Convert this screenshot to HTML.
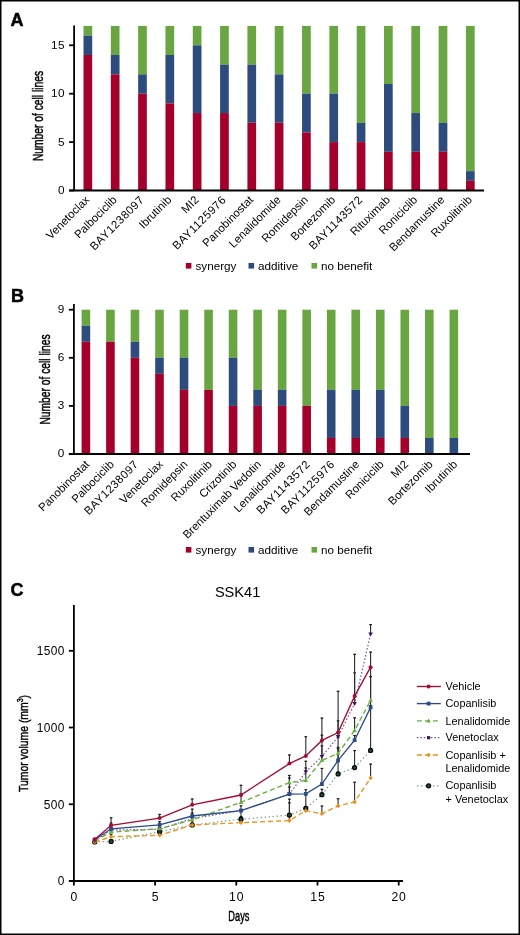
<!DOCTYPE html>
<html><head><meta charset="utf-8"><title>Figure</title>
<style>html,body{margin:0;padding:0;background:#fff;width:520px;height:935px;overflow:hidden}
body{position:relative;font-family:"Liberation Sans",sans-serif}</style></head>
<body>
<svg width="520" height="935" viewBox="0 0 520 935" style="position:absolute;left:0;top:0;will-change:transform" font-family="Liberation Sans, sans-serif">
<rect x="0" y="0" width="520" height="935" fill="#fff"/>
<text x="10.6" y="25.8" font-size="18" font-weight="bold" fill="#000" stroke="#000" stroke-width="0.5">A</text>
<rect x="83.50" y="25.94" width="8.7" height="9.68" fill="#69A541"/>
<rect x="83.50" y="35.62" width="8.7" height="19.36" fill="#2E4B7D"/>
<rect x="83.50" y="54.98" width="8.7" height="135.52" fill="#A3002C"/>
<text x="0" y="0" font-size="11.4" text-anchor="end" transform="translate(90.15,200.50) rotate(-45)">Venetoclax</text>
<rect x="110.82" y="25.94" width="8.7" height="29.04" fill="#69A541"/>
<rect x="110.82" y="54.98" width="8.7" height="19.36" fill="#2E4B7D"/>
<rect x="110.82" y="74.34" width="8.7" height="116.16" fill="#A3002C"/>
<text x="0" y="0" font-size="11.4" text-anchor="end" transform="translate(117.47,200.50) rotate(-45)">Palbociclib</text>
<rect x="138.14" y="25.94" width="8.7" height="48.40" fill="#69A541"/>
<rect x="138.14" y="74.34" width="8.7" height="19.36" fill="#2E4B7D"/>
<rect x="138.14" y="93.70" width="8.7" height="96.80" fill="#A3002C"/>
<text x="0" y="0" font-size="11.4" text-anchor="end" letter-spacing="0.5" transform="translate(144.79,200.50) rotate(-45)">BAY1238097</text>
<rect x="165.46" y="25.94" width="8.7" height="29.04" fill="#69A541"/>
<rect x="165.46" y="54.98" width="8.7" height="48.40" fill="#2E4B7D"/>
<rect x="165.46" y="103.38" width="8.7" height="87.12" fill="#A3002C"/>
<text x="0" y="0" font-size="11.4" text-anchor="end" transform="translate(172.11,200.50) rotate(-45)">Ibrutinib</text>
<rect x="192.78" y="25.94" width="8.7" height="19.36" fill="#69A541"/>
<rect x="192.78" y="45.30" width="8.7" height="67.76" fill="#2E4B7D"/>
<rect x="192.78" y="113.06" width="8.7" height="77.44" fill="#A3002C"/>
<text x="0" y="0" font-size="11.4" text-anchor="end" transform="translate(199.43,200.50) rotate(-45)">MI2</text>
<rect x="220.10" y="25.94" width="8.7" height="38.72" fill="#69A541"/>
<rect x="220.10" y="64.66" width="8.7" height="48.40" fill="#2E4B7D"/>
<rect x="220.10" y="113.06" width="8.7" height="77.44" fill="#A3002C"/>
<text x="0" y="0" font-size="11.4" text-anchor="end" letter-spacing="0.5" transform="translate(226.75,200.50) rotate(-45)">BAY1125976</text>
<rect x="247.42" y="25.94" width="8.7" height="38.72" fill="#69A541"/>
<rect x="247.42" y="64.66" width="8.7" height="58.08" fill="#2E4B7D"/>
<rect x="247.42" y="122.74" width="8.7" height="67.76" fill="#A3002C"/>
<text x="0" y="0" font-size="11.4" text-anchor="end" transform="translate(254.07,200.50) rotate(-45)">Panobinostat</text>
<rect x="274.74" y="25.94" width="8.7" height="48.40" fill="#69A541"/>
<rect x="274.74" y="74.34" width="8.7" height="48.40" fill="#2E4B7D"/>
<rect x="274.74" y="122.74" width="8.7" height="67.76" fill="#A3002C"/>
<text x="0" y="0" font-size="11.4" text-anchor="end" transform="translate(281.39,200.50) rotate(-45)">Lenalidomide</text>
<rect x="302.06" y="25.94" width="8.7" height="67.76" fill="#69A541"/>
<rect x="302.06" y="93.70" width="8.7" height="38.72" fill="#2E4B7D"/>
<rect x="302.06" y="132.42" width="8.7" height="58.08" fill="#A3002C"/>
<text x="0" y="0" font-size="11.4" text-anchor="end" transform="translate(308.71,200.50) rotate(-45)">Romidepsin</text>
<rect x="329.38" y="25.94" width="8.7" height="67.76" fill="#69A541"/>
<rect x="329.38" y="93.70" width="8.7" height="48.40" fill="#2E4B7D"/>
<rect x="329.38" y="142.10" width="8.7" height="48.40" fill="#A3002C"/>
<text x="0" y="0" font-size="11.4" text-anchor="end" transform="translate(336.03,200.50) rotate(-45)">Bortezomib</text>
<rect x="356.70" y="25.94" width="8.7" height="96.80" fill="#69A541"/>
<rect x="356.70" y="122.74" width="8.7" height="19.36" fill="#2E4B7D"/>
<rect x="356.70" y="142.10" width="8.7" height="48.40" fill="#A3002C"/>
<text x="0" y="0" font-size="11.4" text-anchor="end" letter-spacing="0.5" transform="translate(363.35,200.50) rotate(-45)">BAY1143572</text>
<rect x="384.02" y="25.94" width="8.7" height="58.08" fill="#69A541"/>
<rect x="384.02" y="84.02" width="8.7" height="67.76" fill="#2E4B7D"/>
<rect x="384.02" y="151.78" width="8.7" height="38.72" fill="#A3002C"/>
<text x="0" y="0" font-size="11.4" text-anchor="end" transform="translate(390.67,200.50) rotate(-45)">Rituximab</text>
<rect x="411.34" y="25.94" width="8.7" height="87.12" fill="#69A541"/>
<rect x="411.34" y="113.06" width="8.7" height="38.72" fill="#2E4B7D"/>
<rect x="411.34" y="151.78" width="8.7" height="38.72" fill="#A3002C"/>
<text x="0" y="0" font-size="11.4" text-anchor="end" transform="translate(417.99,200.50) rotate(-45)">Roniciclib</text>
<rect x="438.66" y="25.94" width="8.7" height="96.80" fill="#69A541"/>
<rect x="438.66" y="122.74" width="8.7" height="29.04" fill="#2E4B7D"/>
<rect x="438.66" y="151.78" width="8.7" height="38.72" fill="#A3002C"/>
<text x="0" y="0" font-size="11.4" text-anchor="end" transform="translate(445.31,200.50) rotate(-45)">Bendamustine</text>
<rect x="465.98" y="25.94" width="8.7" height="145.20" fill="#69A541"/>
<rect x="465.98" y="171.14" width="8.7" height="9.68" fill="#2E4B7D"/>
<rect x="465.98" y="180.82" width="8.7" height="9.68" fill="#A3002C"/>
<text x="0" y="0" font-size="11.4" text-anchor="end" transform="translate(472.63,200.50) rotate(-45)">Ruxolitinib</text>
<line x1="74.1" y1="25.5" x2="74.1" y2="190.5" stroke="#000" stroke-width="1.8"/>
<line x1="69.1" y1="190.5" x2="484" y2="190.5" stroke="#000" stroke-width="1.8"/>
<line x1="69.1" y1="190.50" x2="74.1" y2="190.50" stroke="#000" stroke-width="1.8"/>
<text x="65.1" y="193.90" font-size="11.8" text-anchor="end" letter-spacing="0.5">0</text>
<line x1="69.1" y1="142.10" x2="74.1" y2="142.10" stroke="#000" stroke-width="1.8"/>
<text x="65.1" y="145.50" font-size="11.8" text-anchor="end" letter-spacing="0.5">5</text>
<line x1="69.1" y1="93.70" x2="74.1" y2="93.70" stroke="#000" stroke-width="1.8"/>
<text x="65.1" y="97.10" font-size="11.8" text-anchor="end" letter-spacing="0.5">10</text>
<line x1="69.1" y1="45.30" x2="74.1" y2="45.30" stroke="#000" stroke-width="1.8"/>
<text x="65.1" y="48.70" font-size="11.8" text-anchor="end" letter-spacing="0.5">15</text>
<text x="0" y="0" font-size="14" text-anchor="middle" transform="translate(43,116) rotate(-90) scale(0.735,1)" stroke="#000" stroke-width="0.45">Number of cell lines</text>
<rect x="185.8" y="263" width="5.6" height="5.6" fill="#A3002C"/>
<text x="195.5" y="269.70" font-size="11.7">synergy</text>
<rect x="248.5" y="263" width="5.6" height="5.6" fill="#2E4B7D"/>
<text x="258" y="269.70" font-size="11.7">additive</text>
<rect x="311.5" y="263" width="5.6" height="5.6" fill="#69A541"/>
<text x="321" y="269.70" font-size="11.7">no benefit</text>
<text x="11.1" y="301.8" font-size="18" font-weight="bold" fill="#000" stroke="#000" stroke-width="0.5">B</text>
<rect x="81.60" y="309.73" width="8.6" height="16.03" fill="#69A541"/>
<rect x="81.60" y="325.76" width="8.6" height="16.03" fill="#2E4B7D"/>
<rect x="81.60" y="341.79" width="8.6" height="112.21" fill="#A3002C"/>
<text x="0" y="0" font-size="11.4" text-anchor="end" transform="translate(90.10,465.00) rotate(-45)">Panobinostat</text>
<rect x="106.13" y="309.73" width="8.6" height="32.06" fill="#69A541"/>
<rect x="106.13" y="341.79" width="8.6" height="112.21" fill="#A3002C"/>
<text x="0" y="0" font-size="11.4" text-anchor="end" transform="translate(114.63,465.00) rotate(-45)">Palbociclib</text>
<rect x="130.66" y="309.73" width="8.6" height="32.06" fill="#69A541"/>
<rect x="130.66" y="341.79" width="8.6" height="16.03" fill="#2E4B7D"/>
<rect x="130.66" y="357.82" width="8.6" height="96.18" fill="#A3002C"/>
<text x="0" y="0" font-size="11.4" text-anchor="end" letter-spacing="0.5" transform="translate(139.16,465.00) rotate(-45)">BAY1238097</text>
<rect x="155.19" y="309.73" width="8.6" height="48.09" fill="#69A541"/>
<rect x="155.19" y="357.82" width="8.6" height="16.03" fill="#2E4B7D"/>
<rect x="155.19" y="373.85" width="8.6" height="80.15" fill="#A3002C"/>
<text x="0" y="0" font-size="11.4" text-anchor="end" transform="translate(163.69,465.00) rotate(-45)">Venetoclax</text>
<rect x="179.72" y="309.73" width="8.6" height="48.09" fill="#69A541"/>
<rect x="179.72" y="357.82" width="8.6" height="32.06" fill="#2E4B7D"/>
<rect x="179.72" y="389.88" width="8.6" height="64.12" fill="#A3002C"/>
<text x="0" y="0" font-size="11.4" text-anchor="end" transform="translate(188.22,465.00) rotate(-45)">Romidepsin</text>
<rect x="204.25" y="309.73" width="8.6" height="80.15" fill="#69A541"/>
<rect x="204.25" y="389.88" width="8.6" height="64.12" fill="#A3002C"/>
<text x="0" y="0" font-size="11.4" text-anchor="end" transform="translate(212.75,465.00) rotate(-45)">Ruxolitinib</text>
<rect x="228.78" y="309.73" width="8.6" height="48.09" fill="#69A541"/>
<rect x="228.78" y="357.82" width="8.6" height="48.09" fill="#2E4B7D"/>
<rect x="228.78" y="405.91" width="8.6" height="48.09" fill="#A3002C"/>
<text x="0" y="0" font-size="11.4" text-anchor="end" transform="translate(237.28,465.00) rotate(-45)">Crizotinib</text>
<rect x="253.31" y="309.73" width="8.6" height="80.15" fill="#69A541"/>
<rect x="253.31" y="389.88" width="8.6" height="16.03" fill="#2E4B7D"/>
<rect x="253.31" y="405.91" width="8.6" height="48.09" fill="#A3002C"/>
<text x="0" y="0" font-size="11.4" text-anchor="end" transform="translate(261.81,465.00) rotate(-45)">Brentuximab Vedotin</text>
<rect x="277.84" y="309.73" width="8.6" height="80.15" fill="#69A541"/>
<rect x="277.84" y="389.88" width="8.6" height="16.03" fill="#2E4B7D"/>
<rect x="277.84" y="405.91" width="8.6" height="48.09" fill="#A3002C"/>
<text x="0" y="0" font-size="11.4" text-anchor="end" transform="translate(286.34,465.00) rotate(-45)">Lenalidomide</text>
<rect x="302.37" y="309.73" width="8.6" height="96.18" fill="#69A541"/>
<rect x="302.37" y="405.91" width="8.6" height="48.09" fill="#A3002C"/>
<text x="0" y="0" font-size="11.4" text-anchor="end" letter-spacing="0.5" transform="translate(310.87,465.00) rotate(-45)">BAY1143572</text>
<rect x="326.90" y="309.73" width="8.6" height="80.15" fill="#69A541"/>
<rect x="326.90" y="389.88" width="8.6" height="48.09" fill="#2E4B7D"/>
<rect x="326.90" y="437.97" width="8.6" height="16.03" fill="#A3002C"/>
<text x="0" y="0" font-size="11.4" text-anchor="end" letter-spacing="0.5" transform="translate(335.40,465.00) rotate(-45)">BAY1125976</text>
<rect x="351.43" y="309.73" width="8.6" height="80.15" fill="#69A541"/>
<rect x="351.43" y="389.88" width="8.6" height="48.09" fill="#2E4B7D"/>
<rect x="351.43" y="437.97" width="8.6" height="16.03" fill="#A3002C"/>
<text x="0" y="0" font-size="11.4" text-anchor="end" transform="translate(359.93,465.00) rotate(-45)">Bendamustine</text>
<rect x="375.96" y="309.73" width="8.6" height="80.15" fill="#69A541"/>
<rect x="375.96" y="389.88" width="8.6" height="48.09" fill="#2E4B7D"/>
<rect x="375.96" y="437.97" width="8.6" height="16.03" fill="#A3002C"/>
<text x="0" y="0" font-size="11.4" text-anchor="end" transform="translate(384.46,465.00) rotate(-45)">Roniciclib</text>
<rect x="400.49" y="309.73" width="8.6" height="96.18" fill="#69A541"/>
<rect x="400.49" y="405.91" width="8.6" height="32.06" fill="#2E4B7D"/>
<rect x="400.49" y="437.97" width="8.6" height="16.03" fill="#A3002C"/>
<text x="0" y="0" font-size="11.4" text-anchor="end" transform="translate(408.99,465.00) rotate(-45)">MI2</text>
<rect x="425.02" y="309.73" width="8.6" height="128.24" fill="#69A541"/>
<rect x="425.02" y="437.97" width="8.6" height="16.03" fill="#2E4B7D"/>
<text x="0" y="0" font-size="11.4" text-anchor="end" transform="translate(433.52,465.00) rotate(-45)">Bortezomib</text>
<rect x="449.55" y="309.73" width="8.6" height="128.24" fill="#69A541"/>
<rect x="449.55" y="437.97" width="8.6" height="16.03" fill="#2E4B7D"/>
<text x="0" y="0" font-size="11.4" text-anchor="end" transform="translate(458.05,465.00) rotate(-45)">Ibrutinib</text>
<line x1="73.9" y1="304" x2="73.9" y2="454" stroke="#000" stroke-width="1.8"/>
<line x1="68.9" y1="454" x2="470" y2="454" stroke="#000" stroke-width="1.8"/>
<line x1="68.9" y1="454.00" x2="73.9" y2="454.00" stroke="#000" stroke-width="1.8"/>
<text x="64.9" y="457.40" font-size="11.8" text-anchor="end" letter-spacing="0.5">0</text>
<line x1="68.9" y1="405.91" x2="73.9" y2="405.91" stroke="#000" stroke-width="1.8"/>
<text x="64.9" y="409.31" font-size="11.8" text-anchor="end" letter-spacing="0.5">3</text>
<line x1="68.9" y1="357.82" x2="73.9" y2="357.82" stroke="#000" stroke-width="1.8"/>
<text x="64.9" y="361.22" font-size="11.8" text-anchor="end" letter-spacing="0.5">6</text>
<line x1="68.9" y1="309.73" x2="73.9" y2="309.73" stroke="#000" stroke-width="1.8"/>
<text x="64.9" y="313.13" font-size="11.8" text-anchor="end" letter-spacing="0.5">9</text>
<text x="0" y="0" font-size="14" text-anchor="middle" transform="translate(49.7,379.5) rotate(-90) scale(0.735,1)" stroke="#000" stroke-width="0.45">Number of cell lines</text>
<rect x="185.8" y="547" width="5.6" height="5.6" fill="#A3002C"/>
<text x="195.5" y="553.70" font-size="11.7">synergy</text>
<rect x="248.5" y="547" width="5.6" height="5.6" fill="#2E4B7D"/>
<text x="258" y="553.70" font-size="11.7">additive</text>
<rect x="311.5" y="547" width="5.6" height="5.6" fill="#69A541"/>
<text x="321" y="553.70" font-size="11.7">no benefit</text>
<text x="10.4" y="595.8" font-size="18" font-weight="bold" stroke="#000" stroke-width="0.5">C</text>
<text x="237.6" y="597" font-size="14.6" text-anchor="middle">SSK41</text>
<line x1="73.9" y1="605" x2="73.9" y2="881" stroke="#000" stroke-width="1.8"/>
<line x1="68.9" y1="881" x2="403" y2="881" stroke="#000" stroke-width="1.8"/>
<line x1="68.9" y1="881.00" x2="73.9" y2="881.00" stroke="#000" stroke-width="1.8"/>
<text x="64.9" y="885.30" font-size="11.9" letter-spacing="0.45" text-anchor="end">0</text>
<line x1="68.9" y1="804.26" x2="73.9" y2="804.26" stroke="#000" stroke-width="1.8"/>
<text x="64.9" y="808.56" font-size="11.9" letter-spacing="0.45" text-anchor="end">500</text>
<line x1="68.9" y1="727.53" x2="73.9" y2="727.53" stroke="#000" stroke-width="1.8"/>
<text x="64.9" y="731.83" font-size="11.9" letter-spacing="0.45" text-anchor="end">1000</text>
<line x1="68.9" y1="650.80" x2="73.9" y2="650.80" stroke="#000" stroke-width="1.8"/>
<text x="64.9" y="655.10" font-size="11.9" letter-spacing="0.45" text-anchor="end">1500</text>
<line x1="73.90" y1="881" x2="73.90" y2="885.5" stroke="#000" stroke-width="1.8"/>
<text x="74.30" y="900.8" font-size="12.2" letter-spacing="0.8" text-anchor="middle">0</text>
<line x1="155.10" y1="881" x2="155.10" y2="885.5" stroke="#000" stroke-width="1.8"/>
<text x="155.50" y="900.8" font-size="12.2" letter-spacing="0.8" text-anchor="middle">5</text>
<line x1="236.30" y1="881" x2="236.30" y2="885.5" stroke="#000" stroke-width="1.8"/>
<text x="236.70" y="900.8" font-size="12.2" letter-spacing="0.8" text-anchor="middle">10</text>
<line x1="317.50" y1="881" x2="317.50" y2="885.5" stroke="#000" stroke-width="1.8"/>
<text x="317.90" y="900.8" font-size="12.2" letter-spacing="0.8" text-anchor="middle">15</text>
<line x1="398.70" y1="881" x2="398.70" y2="885.5" stroke="#000" stroke-width="1.8"/>
<text x="399.10" y="900.8" font-size="12.2" letter-spacing="0.8" text-anchor="middle">20</text>
<text x="0" y="0" font-size="14.5" text-anchor="middle" stroke="#000" stroke-width="0.45" transform="translate(238.9,920.8) scale(0.64,1)">Days</text>
<text x="0" y="0" font-size="13.5" text-anchor="middle" stroke="#000" stroke-width="0.45" transform="translate(27.8,743.5) rotate(-90) scale(0.77,1)">Tumor volume (mm<tspan font-size="9" dy="-5">3</tspan><tspan dy="5">)</tspan></text>
<line x1="94.7" y1="837.7" x2="94.7" y2="839.5" stroke="#2a2a2a" stroke-width="1.1"/>
<line x1="93.35000000000001" y1="838.25" x2="96.05" y2="838.25" stroke="#1a1a1a" stroke-width="1.2"/>
<line x1="111.1" y1="817.3" x2="111.1" y2="825.3" stroke="#2a2a2a" stroke-width="1.1"/>
<line x1="109.75" y1="817.8499999999999" x2="112.44999999999999" y2="817.8499999999999" stroke="#1a1a1a" stroke-width="1.2"/>
<line x1="159.6" y1="813.9" x2="159.6" y2="818.1" stroke="#2a2a2a" stroke-width="1.1"/>
<line x1="158.25" y1="814.4499999999999" x2="160.95" y2="814.4499999999999" stroke="#1a1a1a" stroke-width="1.2"/>
<line x1="192.2" y1="798.5" x2="192.2" y2="804.8" stroke="#2a2a2a" stroke-width="1.1"/>
<line x1="190.85" y1="799.05" x2="193.54999999999998" y2="799.05" stroke="#1a1a1a" stroke-width="1.2"/>
<line x1="241" y1="784.8" x2="241" y2="795" stroke="#2a2a2a" stroke-width="1.1"/>
<line x1="239.65" y1="785.3499999999999" x2="242.35" y2="785.3499999999999" stroke="#1a1a1a" stroke-width="1.2"/>
<line x1="289.4" y1="754.4" x2="289.4" y2="763.6" stroke="#2a2a2a" stroke-width="1.1"/>
<line x1="288.04999999999995" y1="754.9499999999999" x2="290.75" y2="754.9499999999999" stroke="#1a1a1a" stroke-width="1.2"/>
<line x1="305.8" y1="736.2" x2="305.8" y2="755.9" stroke="#2a2a2a" stroke-width="1.1"/>
<line x1="304.45" y1="736.75" x2="307.15000000000003" y2="736.75" stroke="#1a1a1a" stroke-width="1.2"/>
<line x1="321.9" y1="717.6" x2="321.9" y2="740.4" stroke="#2a2a2a" stroke-width="1.1"/>
<line x1="320.54999999999995" y1="718.15" x2="323.25" y2="718.15" stroke="#1a1a1a" stroke-width="1.2"/>
<line x1="338.1" y1="720.3" x2="338.1" y2="732.6" stroke="#2a2a2a" stroke-width="1.1"/>
<line x1="336.75" y1="720.8499999999999" x2="339.45000000000005" y2="720.8499999999999" stroke="#1a1a1a" stroke-width="1.2"/>
<line x1="354.6" y1="672.3" x2="354.6" y2="696.1" stroke="#2a2a2a" stroke-width="1.1"/>
<line x1="353.25" y1="672.8499999999999" x2="355.95000000000005" y2="672.8499999999999" stroke="#1a1a1a" stroke-width="1.2"/>
<line x1="370.6" y1="651.6" x2="370.6" y2="667.2" stroke="#2a2a2a" stroke-width="1.1"/>
<line x1="369.25" y1="652.15" x2="371.95000000000005" y2="652.15" stroke="#1a1a1a" stroke-width="1.2"/>
<line x1="111.1" y1="822.6" x2="111.1" y2="828.8" stroke="#2a2a2a" stroke-width="1.1"/>
<line x1="109.75" y1="823.15" x2="112.44999999999999" y2="823.15" stroke="#1a1a1a" stroke-width="1.2"/>
<line x1="159.6" y1="821.1" x2="159.6" y2="824.9" stroke="#2a2a2a" stroke-width="1.1"/>
<line x1="158.25" y1="821.65" x2="160.95" y2="821.65" stroke="#1a1a1a" stroke-width="1.2"/>
<line x1="192.2" y1="808.6" x2="192.2" y2="816" stroke="#2a2a2a" stroke-width="1.1"/>
<line x1="190.85" y1="809.15" x2="193.54999999999998" y2="809.15" stroke="#1a1a1a" stroke-width="1.2"/>
<line x1="241" y1="805.3" x2="241" y2="810.6" stroke="#2a2a2a" stroke-width="1.1"/>
<line x1="239.65" y1="805.8499999999999" x2="242.35" y2="805.8499999999999" stroke="#1a1a1a" stroke-width="1.2"/>
<line x1="289.4" y1="786.5" x2="289.4" y2="794.2" stroke="#2a2a2a" stroke-width="1.1"/>
<line x1="288.04999999999995" y1="787.05" x2="290.75" y2="787.05" stroke="#1a1a1a" stroke-width="1.2"/>
<line x1="305.8" y1="789.1" x2="305.8" y2="793.9" stroke="#2a2a2a" stroke-width="1.1"/>
<line x1="304.45" y1="789.65" x2="307.15000000000003" y2="789.65" stroke="#1a1a1a" stroke-width="1.2"/>
<line x1="321.9" y1="767.9" x2="321.9" y2="784.1" stroke="#2a2a2a" stroke-width="1.1"/>
<line x1="320.54999999999995" y1="768.4499999999999" x2="323.25" y2="768.4499999999999" stroke="#1a1a1a" stroke-width="1.2"/>
<line x1="338.1" y1="748" x2="338.1" y2="760.4" stroke="#2a2a2a" stroke-width="1.1"/>
<line x1="336.75" y1="748.55" x2="339.45000000000005" y2="748.55" stroke="#1a1a1a" stroke-width="1.2"/>
<line x1="354.6" y1="735" x2="354.6" y2="740.2" stroke="#2a2a2a" stroke-width="1.1"/>
<line x1="353.25" y1="735.55" x2="355.95000000000005" y2="735.55" stroke="#1a1a1a" stroke-width="1.2"/>
<line x1="370.6" y1="667" x2="370.6" y2="707.4" stroke="#2a2a2a" stroke-width="1.1"/>
<line x1="369.25" y1="667.55" x2="371.95000000000005" y2="667.55" stroke="#1a1a1a" stroke-width="1.2"/>
<line x1="111.1" y1="827" x2="111.1" y2="832.2" stroke="#2a2a2a" stroke-width="1.1"/>
<line x1="109.75" y1="827.55" x2="112.44999999999999" y2="827.55" stroke="#1a1a1a" stroke-width="1.2"/>
<line x1="159.6" y1="823" x2="159.6" y2="828.7" stroke="#2a2a2a" stroke-width="1.1"/>
<line x1="158.25" y1="823.55" x2="160.95" y2="823.55" stroke="#1a1a1a" stroke-width="1.2"/>
<line x1="192.2" y1="812.5" x2="192.2" y2="819.9" stroke="#2a2a2a" stroke-width="1.1"/>
<line x1="190.85" y1="813.05" x2="193.54999999999998" y2="813.05" stroke="#1a1a1a" stroke-width="1.2"/>
<line x1="241" y1="793" x2="241" y2="802.3" stroke="#2a2a2a" stroke-width="1.1"/>
<line x1="239.65" y1="793.55" x2="242.35" y2="793.55" stroke="#1a1a1a" stroke-width="1.2"/>
<line x1="289.4" y1="774.9" x2="289.4" y2="782.6" stroke="#2a2a2a" stroke-width="1.1"/>
<line x1="288.04999999999995" y1="775.4499999999999" x2="290.75" y2="775.4499999999999" stroke="#1a1a1a" stroke-width="1.2"/>
<line x1="305.8" y1="767.4" x2="305.8" y2="780.4" stroke="#2a2a2a" stroke-width="1.1"/>
<line x1="304.45" y1="767.9499999999999" x2="307.15000000000003" y2="767.9499999999999" stroke="#1a1a1a" stroke-width="1.2"/>
<line x1="321.9" y1="745.3" x2="321.9" y2="760.4" stroke="#2a2a2a" stroke-width="1.1"/>
<line x1="320.54999999999995" y1="745.8499999999999" x2="323.25" y2="745.8499999999999" stroke="#1a1a1a" stroke-width="1.2"/>
<line x1="338.1" y1="746.8" x2="338.1" y2="753.4" stroke="#2a2a2a" stroke-width="1.1"/>
<line x1="336.75" y1="747.3499999999999" x2="339.45000000000005" y2="747.3499999999999" stroke="#1a1a1a" stroke-width="1.2"/>
<line x1="354.6" y1="717.3" x2="354.6" y2="730.5" stroke="#2a2a2a" stroke-width="1.1"/>
<line x1="353.25" y1="717.8499999999999" x2="355.95000000000005" y2="717.8499999999999" stroke="#1a1a1a" stroke-width="1.2"/>
<line x1="370.6" y1="676.1" x2="370.6" y2="700.2" stroke="#2a2a2a" stroke-width="1.1"/>
<line x1="369.25" y1="676.65" x2="371.95000000000005" y2="676.65" stroke="#1a1a1a" stroke-width="1.2"/>
<line x1="289.4" y1="777.5" x2="289.4" y2="794.2" stroke="#2a2a2a" stroke-width="1.1"/>
<line x1="288.04999999999995" y1="778.05" x2="290.75" y2="778.05" stroke="#1a1a1a" stroke-width="1.2"/>
<line x1="305.8" y1="760.7" x2="305.8" y2="771.8" stroke="#2a2a2a" stroke-width="1.1"/>
<line x1="304.45" y1="761.25" x2="307.15000000000003" y2="761.25" stroke="#1a1a1a" stroke-width="1.2"/>
<line x1="321.9" y1="734.7" x2="321.9" y2="756.5" stroke="#2a2a2a" stroke-width="1.1"/>
<line x1="320.54999999999995" y1="735.25" x2="323.25" y2="735.25" stroke="#1a1a1a" stroke-width="1.2"/>
<line x1="338.1" y1="690.8" x2="338.1" y2="736.7" stroke="#2a2a2a" stroke-width="1.1"/>
<line x1="336.75" y1="691.3499999999999" x2="339.45000000000005" y2="691.3499999999999" stroke="#1a1a1a" stroke-width="1.2"/>
<line x1="354.6" y1="653.8" x2="354.6" y2="703.6" stroke="#2a2a2a" stroke-width="1.1"/>
<line x1="353.25" y1="654.3499999999999" x2="355.95000000000005" y2="654.3499999999999" stroke="#1a1a1a" stroke-width="1.2"/>
<line x1="370.6" y1="624.1" x2="370.6" y2="634.1" stroke="#2a2a2a" stroke-width="1.1"/>
<line x1="369.25" y1="624.65" x2="371.95000000000005" y2="624.65" stroke="#1a1a1a" stroke-width="1.2"/>
<line x1="111.1" y1="834.1" x2="111.1" y2="836.7" stroke="#2a2a2a" stroke-width="1.1"/>
<line x1="109.75" y1="834.65" x2="112.44999999999999" y2="834.65" stroke="#1a1a1a" stroke-width="1.2"/>
<line x1="159.6" y1="831" x2="159.6" y2="835.3" stroke="#2a2a2a" stroke-width="1.1"/>
<line x1="158.25" y1="831.55" x2="160.95" y2="831.55" stroke="#1a1a1a" stroke-width="1.2"/>
<line x1="192.2" y1="822.3" x2="192.2" y2="825" stroke="#2a2a2a" stroke-width="1.1"/>
<line x1="190.85" y1="822.8499999999999" x2="193.54999999999998" y2="822.8499999999999" stroke="#1a1a1a" stroke-width="1.2"/>
<line x1="241" y1="816" x2="241" y2="822.7" stroke="#2a2a2a" stroke-width="1.1"/>
<line x1="239.65" y1="816.55" x2="242.35" y2="816.55" stroke="#1a1a1a" stroke-width="1.2"/>
<line x1="289.4" y1="802.3" x2="289.4" y2="820.6" stroke="#2a2a2a" stroke-width="1.1"/>
<line x1="288.04999999999995" y1="802.8499999999999" x2="290.75" y2="802.8499999999999" stroke="#1a1a1a" stroke-width="1.2"/>
<line x1="305.8" y1="806" x2="305.8" y2="810.7" stroke="#2a2a2a" stroke-width="1.1"/>
<line x1="304.45" y1="806.55" x2="307.15000000000003" y2="806.55" stroke="#1a1a1a" stroke-width="1.2"/>
<line x1="321.9" y1="805.5" x2="321.9" y2="813.8" stroke="#2a2a2a" stroke-width="1.1"/>
<line x1="320.54999999999995" y1="806.05" x2="323.25" y2="806.05" stroke="#1a1a1a" stroke-width="1.2"/>
<line x1="338.1" y1="798.2" x2="338.1" y2="805.9" stroke="#2a2a2a" stroke-width="1.1"/>
<line x1="336.75" y1="798.75" x2="339.45000000000005" y2="798.75" stroke="#1a1a1a" stroke-width="1.2"/>
<line x1="354.6" y1="781.7" x2="354.6" y2="802" stroke="#2a2a2a" stroke-width="1.1"/>
<line x1="353.25" y1="782.25" x2="355.95000000000005" y2="782.25" stroke="#1a1a1a" stroke-width="1.2"/>
<line x1="370.6" y1="763.6" x2="370.6" y2="778" stroke="#2a2a2a" stroke-width="1.1"/>
<line x1="369.25" y1="764.15" x2="371.95000000000005" y2="764.15" stroke="#1a1a1a" stroke-width="1.2"/>
<line x1="159.6" y1="827" x2="159.6" y2="831.7" stroke="#2a2a2a" stroke-width="1.1"/>
<line x1="158.25" y1="827.55" x2="160.95" y2="827.55" stroke="#1a1a1a" stroke-width="1.2"/>
<line x1="192.2" y1="820" x2="192.2" y2="825" stroke="#2a2a2a" stroke-width="1.1"/>
<line x1="190.85" y1="820.55" x2="193.54999999999998" y2="820.55" stroke="#1a1a1a" stroke-width="1.2"/>
<line x1="241" y1="809" x2="241" y2="819.2" stroke="#2a2a2a" stroke-width="1.1"/>
<line x1="239.65" y1="809.55" x2="242.35" y2="809.55" stroke="#1a1a1a" stroke-width="1.2"/>
<line x1="289.4" y1="798.6" x2="289.4" y2="815.1" stroke="#2a2a2a" stroke-width="1.1"/>
<line x1="288.04999999999995" y1="799.15" x2="290.75" y2="799.15" stroke="#1a1a1a" stroke-width="1.2"/>
<line x1="305.8" y1="792" x2="305.8" y2="808.3" stroke="#2a2a2a" stroke-width="1.1"/>
<line x1="304.45" y1="792.55" x2="307.15000000000003" y2="792.55" stroke="#1a1a1a" stroke-width="1.2"/>
<line x1="321.9" y1="788.8" x2="321.9" y2="794.7" stroke="#2a2a2a" stroke-width="1.1"/>
<line x1="320.54999999999995" y1="789.3499999999999" x2="323.25" y2="789.3499999999999" stroke="#1a1a1a" stroke-width="1.2"/>
<line x1="338.1" y1="737" x2="338.1" y2="773.9" stroke="#2a2a2a" stroke-width="1.1"/>
<line x1="336.75" y1="737.55" x2="339.45000000000005" y2="737.55" stroke="#1a1a1a" stroke-width="1.2"/>
<line x1="354.6" y1="750" x2="354.6" y2="767.6" stroke="#2a2a2a" stroke-width="1.1"/>
<line x1="353.25" y1="750.55" x2="355.95000000000005" y2="750.55" stroke="#1a1a1a" stroke-width="1.2"/>
<line x1="370.6" y1="705" x2="370.6" y2="750.4" stroke="#2a2a2a" stroke-width="1.1"/>
<line x1="369.25" y1="705.55" x2="371.95000000000005" y2="705.55" stroke="#1a1a1a" stroke-width="1.2"/>
<polyline points="94.7,842 111.1,841.4 159.6,831.7 192.2,825 241,819.2 289.4,815.1 305.8,808.3 321.9,794.7 338.1,773.9 354.6,767.6 370.6,750.4" fill="none" stroke="#7BA08A" stroke-width="1.2" stroke-dasharray="1.5,2.5"/>
<circle cx="94.7" cy="842" r="2.05" fill="#1E4A36" stroke="#000" stroke-width="1.1"/>
<circle cx="111.1" cy="841.4" r="2.05" fill="#1E4A36" stroke="#000" stroke-width="1.1"/>
<circle cx="159.6" cy="831.7" r="2.05" fill="#1E4A36" stroke="#000" stroke-width="1.1"/>
<circle cx="192.2" cy="825" r="2.05" fill="#1E4A36" stroke="#000" stroke-width="1.1"/>
<circle cx="241" cy="819.2" r="2.05" fill="#1E4A36" stroke="#000" stroke-width="1.1"/>
<circle cx="289.4" cy="815.1" r="2.05" fill="#1E4A36" stroke="#000" stroke-width="1.1"/>
<circle cx="305.8" cy="808.3" r="2.05" fill="#1E4A36" stroke="#000" stroke-width="1.1"/>
<circle cx="321.9" cy="794.7" r="2.05" fill="#1E4A36" stroke="#000" stroke-width="1.1"/>
<circle cx="338.1" cy="773.9" r="2.05" fill="#1E4A36" stroke="#000" stroke-width="1.1"/>
<circle cx="354.6" cy="767.6" r="2.05" fill="#1E4A36" stroke="#000" stroke-width="1.1"/>
<circle cx="370.6" cy="750.4" r="2.05" fill="#1E4A36" stroke="#000" stroke-width="1.1"/>
<polyline points="94.7,842 111.1,836.7 159.6,835.3 192.2,825 241,822.7 289.4,820.6 305.8,810.7 321.9,813.8 338.1,805.9 354.6,802 370.6,778" fill="none" stroke="#E8921E" stroke-width="1.35" stroke-dasharray="5,3"/>
<path d="M92.4,842 L94.7,839.7 L97.0,842 L94.7,844.3 Z" fill="#E8921E"/>
<path d="M108.8,836.7 L111.1,834.4000000000001 L113.39999999999999,836.7 L111.1,839.0 Z" fill="#E8921E"/>
<path d="M157.29999999999998,835.3 L159.6,833.0 L161.9,835.3 L159.6,837.5999999999999 Z" fill="#E8921E"/>
<path d="M189.89999999999998,825 L192.2,822.7 L194.5,825 L192.2,827.3 Z" fill="#E8921E"/>
<path d="M238.7,822.7 L241,820.4000000000001 L243.3,822.7 L241,825.0 Z" fill="#E8921E"/>
<path d="M287.09999999999997,820.6 L289.4,818.3000000000001 L291.7,820.6 L289.4,822.9 Z" fill="#E8921E"/>
<path d="M303.5,810.7 L305.8,808.4000000000001 L308.1,810.7 L305.8,813.0 Z" fill="#E8921E"/>
<path d="M319.59999999999997,813.8 L321.9,811.5 L324.2,813.8 L321.9,816.0999999999999 Z" fill="#E8921E"/>
<path d="M335.8,805.9 L338.1,803.6 L340.40000000000003,805.9 L338.1,808.1999999999999 Z" fill="#E8921E"/>
<path d="M352.3,802 L354.6,799.7 L356.90000000000003,802 L354.6,804.3 Z" fill="#E8921E"/>
<path d="M368.3,778 L370.6,775.7 L372.90000000000003,778 L370.6,780.3 Z" fill="#E8921E"/>
<polyline points="94.7,841 111.1,830 159.6,829.3 192.2,818.5 241,810.6 289.4,794.2 305.8,771.8 321.9,756.5 338.1,736.7 354.6,703.6 370.6,634.1" fill="none" stroke="#7550A0" stroke-width="1.2" stroke-dasharray="1.5,2"/>
<path d="M92.4,839.4 L97.0,839.4 L94.7,843.3 Z" fill="#3A1858"/>
<path d="M108.8,828.4 L113.39999999999999,828.4 L111.1,832.3 Z" fill="#3A1858"/>
<path d="M157.29999999999998,827.6999999999999 L161.9,827.6999999999999 L159.6,831.5999999999999 Z" fill="#3A1858"/>
<path d="M189.89999999999998,816.9 L194.5,816.9 L192.2,820.8 Z" fill="#3A1858"/>
<path d="M238.7,809.0 L243.3,809.0 L241,812.9 Z" fill="#3A1858"/>
<path d="M287.09999999999997,792.6 L291.7,792.6 L289.4,796.5 Z" fill="#3A1858"/>
<path d="M303.5,770.1999999999999 L308.1,770.1999999999999 L305.8,774.0999999999999 Z" fill="#3A1858"/>
<path d="M319.59999999999997,754.9 L324.2,754.9 L321.9,758.8 Z" fill="#3A1858"/>
<path d="M335.8,735.1 L340.40000000000003,735.1 L338.1,739.0 Z" fill="#3A1858"/>
<path d="M352.3,702.0 L356.90000000000003,702.0 L354.6,705.9 Z" fill="#3A1858"/>
<path d="M368.3,632.5 L372.90000000000003,632.5 L370.6,636.4 Z" fill="#3A1858"/>
<polyline points="94.7,840.5 111.1,832.2 159.6,828.7 192.2,819.9 241,802.3 289.4,782.6 305.8,780.4 321.9,760.4 338.1,753.4 354.6,730.5 370.6,700.2" fill="none" stroke="#6AAF3C" stroke-width="1.35" stroke-dasharray="5,3"/>
<path d="M92.4,842.1 L97.0,842.1 L94.7,838.2 Z" fill="#6AAF3C"/>
<path d="M108.8,833.8000000000001 L113.39999999999999,833.8000000000001 L111.1,829.9000000000001 Z" fill="#6AAF3C"/>
<path d="M157.29999999999998,830.3000000000001 L161.9,830.3000000000001 L159.6,826.4000000000001 Z" fill="#6AAF3C"/>
<path d="M189.89999999999998,821.5 L194.5,821.5 L192.2,817.6 Z" fill="#6AAF3C"/>
<path d="M238.7,803.9 L243.3,803.9 L241,800.0 Z" fill="#6AAF3C"/>
<path d="M287.09999999999997,784.2 L291.7,784.2 L289.4,780.3000000000001 Z" fill="#6AAF3C"/>
<path d="M303.5,782.0 L308.1,782.0 L305.8,778.1 Z" fill="#6AAF3C"/>
<path d="M319.59999999999997,762.0 L324.2,762.0 L321.9,758.1 Z" fill="#6AAF3C"/>
<path d="M335.8,755.0 L340.40000000000003,755.0 L338.1,751.1 Z" fill="#6AAF3C"/>
<path d="M352.3,732.1 L356.90000000000003,732.1 L354.6,728.2 Z" fill="#6AAF3C"/>
<path d="M368.3,701.8000000000001 L372.90000000000003,701.8000000000001 L370.6,697.9000000000001 Z" fill="#6AAF3C"/>
<polyline points="94.7,839.8 111.1,828.8 159.6,824.9 192.2,816 241,810.6 289.4,794.2 305.8,793.9 321.9,784.1 338.1,760.4 354.6,740.2 370.6,707.4" fill="none" stroke="#2C4C88" stroke-width="1.35"/>
<rect x="92.8" y="837.9" width="3.8" height="3.8" fill="#2C4C88"/>
<rect x="109.19999999999999" y="826.9" width="3.8" height="3.8" fill="#2C4C88"/>
<rect x="157.7" y="823.0" width="3.8" height="3.8" fill="#2C4C88"/>
<rect x="190.29999999999998" y="814.1" width="3.8" height="3.8" fill="#2C4C88"/>
<rect x="239.1" y="808.7" width="3.8" height="3.8" fill="#2C4C88"/>
<rect x="287.5" y="792.3000000000001" width="3.8" height="3.8" fill="#2C4C88"/>
<rect x="303.90000000000003" y="792.0" width="3.8" height="3.8" fill="#2C4C88"/>
<rect x="320.0" y="782.2" width="3.8" height="3.8" fill="#2C4C88"/>
<rect x="336.20000000000005" y="758.5" width="3.8" height="3.8" fill="#2C4C88"/>
<rect x="352.70000000000005" y="738.3000000000001" width="3.8" height="3.8" fill="#2C4C88"/>
<rect x="368.70000000000005" y="705.5" width="3.8" height="3.8" fill="#2C4C88"/>
<polyline points="94.7,839.5 111.1,825.3 159.6,818.1 192.2,804.8 241,795 289.4,763.6 305.8,755.9 321.9,740.4 338.1,732.6 354.6,696.1 370.6,667.2" fill="none" stroke="#A50B34" stroke-width="1.35"/>
<circle cx="94.7" cy="839.5" r="2" fill="#A50B34"/>
<circle cx="111.1" cy="825.3" r="2" fill="#A50B34"/>
<circle cx="159.6" cy="818.1" r="2" fill="#A50B34"/>
<circle cx="192.2" cy="804.8" r="2" fill="#A50B34"/>
<circle cx="241" cy="795" r="2" fill="#A50B34"/>
<circle cx="289.4" cy="763.6" r="2" fill="#A50B34"/>
<circle cx="305.8" cy="755.9" r="2" fill="#A50B34"/>
<circle cx="321.9" cy="740.4" r="2" fill="#A50B34"/>
<circle cx="338.1" cy="732.6" r="2" fill="#A50B34"/>
<circle cx="354.6" cy="696.1" r="2" fill="#A50B34"/>
<circle cx="370.6" cy="667.2" r="2" fill="#A50B34"/>
<line x1="416.9" y1="686.5" x2="440.8" y2="686.5" stroke="#A50B34" stroke-width="1.35"/>
<circle cx="428.6" cy="686.5" r="2" fill="#A50B34"/>
<text x="445.5" y="690.10" font-size="10.9">Vehicle</text>
<line x1="416.9" y1="703.6" x2="440.8" y2="703.6" stroke="#2C4C88" stroke-width="1.35"/>
<rect x="426.70000000000005" y="701.7" width="3.8" height="3.8" fill="#2C4C88"/>
<text x="445.5" y="707.20" font-size="10.9">Copanlisib</text>
<line x1="416.9" y1="720.9" x2="440.8" y2="720.9" stroke="#6AAF3C" stroke-width="1.35" stroke-dasharray="5,3"/>
<path d="M426.3,722.5 L430.90000000000003,722.5 L428.6,718.6 Z" fill="#6AAF3C"/>
<text x="445.5" y="724.50" font-size="10.9">Lenalidomide</text>
<line x1="416.9" y1="737.7" x2="440.8" y2="737.7" stroke="#7550A0" stroke-width="1.2" stroke-dasharray="1.5,2"/>
<rect x="427.0" y="736.1" width="3.2" height="3.2" fill="#3A1858"/>
<text x="445.5" y="741.30" font-size="10.9">Venetoclax</text>
<line x1="416.9" y1="755" x2="440.8" y2="755" stroke="#E8921E" stroke-width="1.35" stroke-dasharray="5,3"/>
<path d="M426.3,755 L428.6,752.7 L430.90000000000003,755 L428.6,757.3 Z" fill="#E8921E"/>
<text x="445.5" y="758.60" font-size="10.9">Copanlisib +</text>
<text x="445.5" y="771.70" font-size="10.9">Lenalidomide</text>
<line x1="416.9" y1="785.8" x2="440.8" y2="785.8" stroke="#7BA08A" stroke-width="1.2" stroke-dasharray="1.5,2.5"/>
<circle cx="428.6" cy="785.8" r="2.05" fill="#1E4A36" stroke="#000" stroke-width="1.1"/>
<text x="445.5" y="789.40" font-size="10.9">Copanlisib</text>
<text x="445.5" y="802.50" font-size="10.9">+ Venetoclax</text>
<rect x="0.75" y="0.75" width="518.5" height="933.5" fill="none" stroke="#000" stroke-width="1.5"/>
</svg>
</body></html>
